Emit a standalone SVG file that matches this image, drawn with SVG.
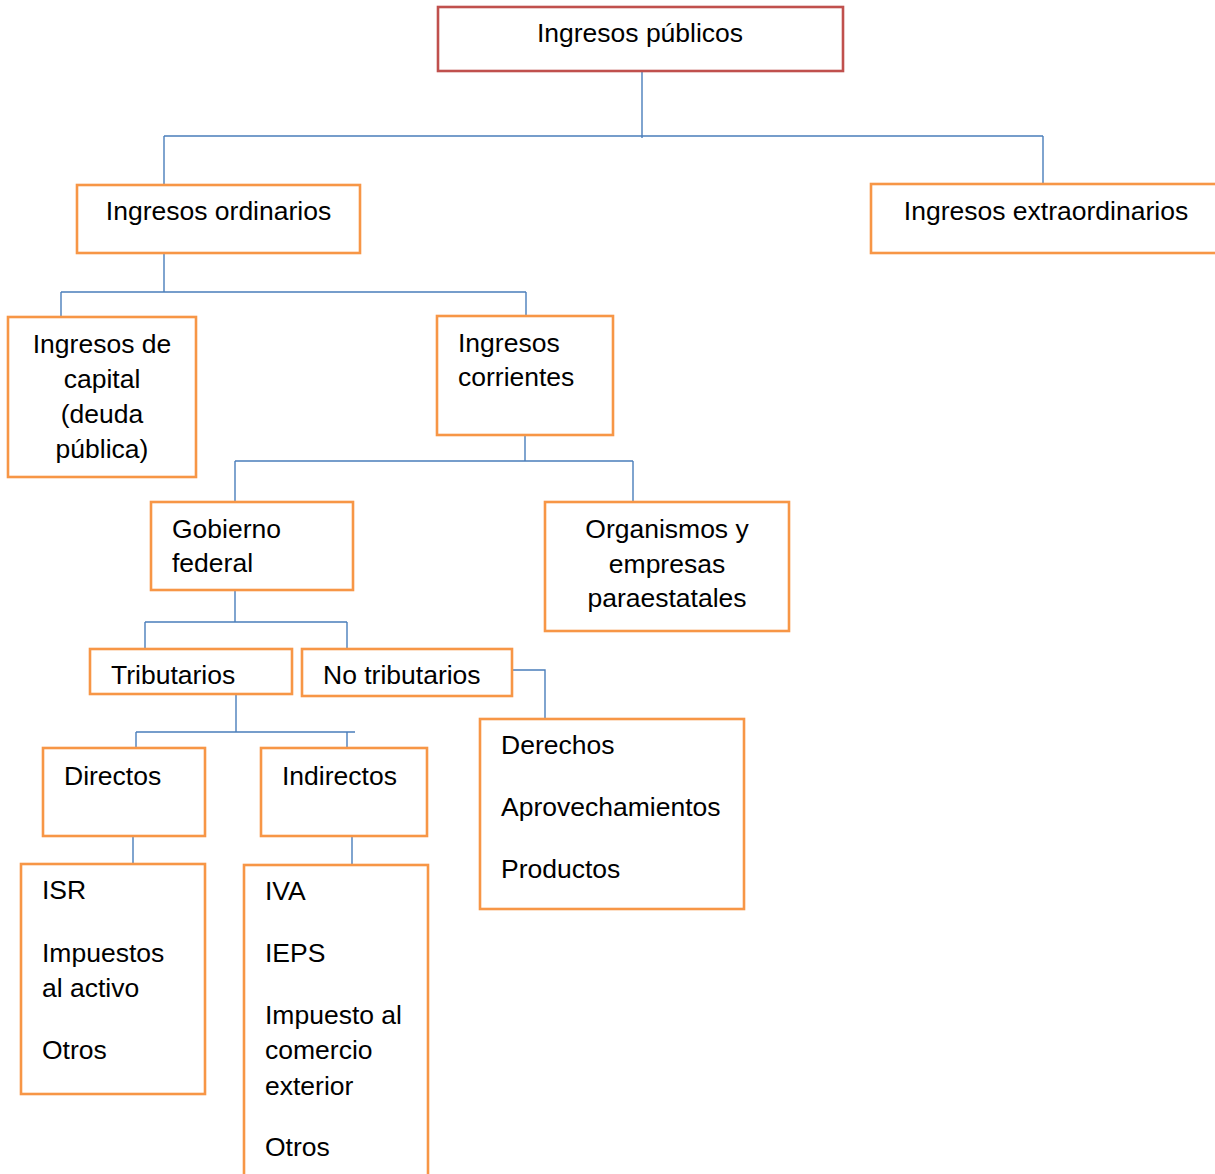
<svg xmlns="http://www.w3.org/2000/svg" width="1215" height="1174" viewBox="0 0 1215 1174">
<style>
.box{fill:#fff;stroke:#F79646;stroke-width:2.6}
.red{fill:#fff;stroke:#C0504D;stroke-width:2.6}
.t{font-family:"Liberation Sans",Arial,sans-serif;font-size:26.5px;fill:#000}
.c{text-anchor:middle}
.ln{fill:none;stroke:#4A7EBB;stroke-width:1.4}
</style>
<rect width="1215" height="1174" fill="#fff"/>
<g id="connectors">
<path class="ln" d="M642 71V138M164 136H1043M164 136V185M1043 136V184"/>
<path class="ln" d="M164 253V292M61 292H526M61 292V317M526 292V316"/>
<path class="ln" d="M525 435V461M235 461H633M235 461V502M633 461V502"/>
<path class="ln" d="M235 590V622M145 622H347M145 622V649M347 622V649"/>
<path class="ln" d="M512 670H545V719"/>
<path class="ln" d="M236 694V732M136 732H355M136 732V748M347 732V748"/>
<path class="ln" d="M133 836V864M352 836V865"/>
</g>
<g id="n-publicos"><rect class="red" x="438" y="7" width="405" height="64"/><text class="t c" x="640" y="42">Ingresos públicos</text></g>
<g id="n-ordinarios"><rect class="box" x="77" y="185" width="283" height="68"/><text class="t c" x="218.5" y="220">Ingresos ordinarios</text></g>
<g id="n-extraordinarios"><rect class="box" x="871" y="184" width="352" height="69"/><text class="t c" x="1046" y="220">Ingresos extraordinarios</text></g>
<g id="n-capital"><rect class="box" x="8" y="317" width="188" height="160"/><text class="t c" x="102" y="353">Ingresos de</text><text class="t c" x="102" y="388">capital</text><text class="t c" x="102" y="423">(deuda</text><text class="t c" x="102" y="458">pública)</text></g>
<g id="n-corrientes"><rect class="box" x="437" y="316" width="176" height="119"/><text class="t" x="458" y="352">Ingresos</text><text class="t" x="458" y="386">corrientes</text></g>
<g id="n-gobierno"><rect class="box" x="151" y="502" width="202" height="88"/><text class="t" x="172" y="538">Gobierno</text><text class="t" x="172" y="572">federal</text></g>
<g id="n-organismos"><rect class="box" x="545" y="502" width="244" height="129"/><text class="t c" x="667" y="538">Organismos y</text><text class="t c" x="667" y="573">empresas</text><text class="t c" x="667" y="607">paraestatales</text></g>
<g id="n-tributarios"><rect class="box" x="90" y="649" width="202" height="45"/><text class="t" x="111" y="684">Tributarios</text></g>
<g id="n-notributarios"><rect class="box" x="302" y="649" width="210" height="47"/><text class="t" x="323" y="684">No tributarios</text></g>
<g id="n-derechos"><rect class="box" x="480" y="719" width="264" height="190"/><text class="t" x="501" y="754">Derechos</text><text class="t" x="501" y="816">Aprovechamientos</text><text class="t" x="501" y="878">Productos</text></g>
<g id="n-directos"><rect class="box" x="43" y="748" width="162" height="88"/><text class="t" x="64" y="785">Directos</text></g>
<g id="n-indirectos"><rect class="box" x="261" y="748" width="166" height="88"/><text class="t" x="282" y="785">Indirectos</text></g>
<g id="n-isr"><rect class="box" x="21" y="864" width="184" height="230"/><text class="t" x="42" y="899">ISR</text><text class="t" x="42" y="962">Impuestos</text><text class="t" x="42" y="997">al activo</text><text class="t" x="42" y="1059">Otros</text></g>
<g id="n-iva"><rect class="box" x="244" y="865" width="184" height="312"/><text class="t" x="265" y="900">IVA</text><text class="t" x="265" y="962">IEPS</text><text class="t" x="265" y="1024">Impuesto al</text><text class="t" x="265" y="1059">comercio</text><text class="t" x="265" y="1095">exterior</text><text class="t" x="265" y="1156">Otros</text></g>
</svg>
